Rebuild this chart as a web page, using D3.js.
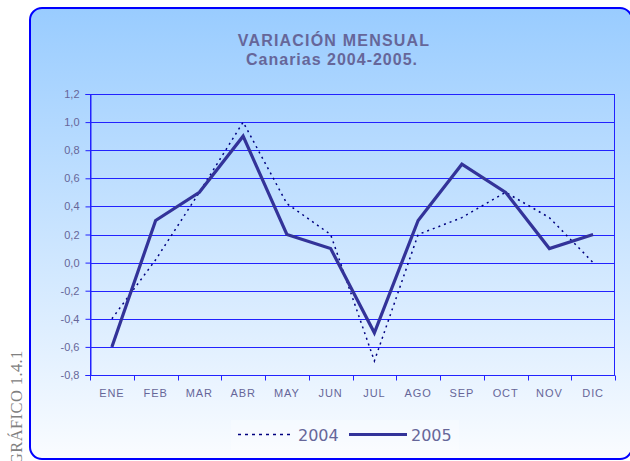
<!DOCTYPE html>
<html>
<head>
<meta charset="utf-8">
<script src="https://cdn.jsdelivr.net/npm/d3@7/dist/d3.min.js"></script>
<style>
html,body{margin:0;padding:0;background:#fff;}
svg{display:block;}
</style>
</head>
<body>
<svg id="chart" width="630" height="461"></svg>
<script>
const months = ["ENE","FEB","MAR","ABR","MAY","JUN","JUL","AGO","SEP","OCT","NOV","DIC"];
const serie2004 = [-0.4, 0.02, 0.5, 1.0, 0.42, 0.2, -0.7, 0.2, 0.32, 0.5, 0.32, 0.0];
const serie2005 = [-0.6, 0.3, 0.5, 0.9, 0.2, 0.1, -0.5, 0.3, 0.7, 0.5, 0.1, 0.2];
const yTicks = [-0.8,-0.6,-0.4,-0.2,0.0,0.2,0.4,0.6,0.8,1.0,1.2];
const seriesNames = ["2004","2005"];
const titleLines = ["VARIACIÓN MENSUAL","Canarias 2004-2005."];
const sideLabel = "GRÁFICO 1.4.1";

const svg = d3.select("#chart");
const defs = svg.append("defs");
const grad = defs.append("linearGradient").attr("id","bg").attr("x1",0).attr("y1",0).attr("x2",0).attr("y2",1);
grad.append("stop").attr("offset","0%").attr("stop-color","#99ccff");
grad.append("stop").attr("offset","100%").attr("stop-color","#fafcff");

// outer box
svg.append("rect").attr("x",30).attr("y",8).attr("width",602).attr("height",451)
  .attr("rx",12).attr("ry",12).attr("fill","url(#bg)").attr("stroke","#0000ff").attr("stroke-width",2);

// side label
svg.append("text").attr("transform","translate(22,465) rotate(-90)")
  .attr("font-family","Liberation Serif, serif").attr("font-size",16.5).attr("fill","#808080")
  .attr("letter-spacing",0.4).text(sideLabel);

// title
svg.append("text").attr("x",334).attr("y",46).attr("text-anchor","middle")
  .attr("font-family","Liberation Sans, Arial, sans-serif").attr("font-weight","bold").attr("fill","#666699")
  .attr("font-size",16).attr("letter-spacing",1.2).text(titleLines[0]);
svg.append("text").attr("x",332).attr("y",65).attr("text-anchor","middle")
  .attr("font-family","Liberation Sans, Arial, sans-serif").attr("font-weight","bold").attr("fill","#666699")
  .attr("font-size",16).attr("letter-spacing",1.0).text(titleLines[1]);

const m = {left:90, right:615, top:94, bottom:375};
const x = d3.scaleBand().domain(months).range([m.left,m.right]);
const y = d3.scaleLinear().domain([-0.8,1.2]).range([m.bottom,m.top]);
const fmt = v => d3.format(".1f")(v).replace(".",",").replace("−","-");

// gridlines
svg.append("g").selectAll("line").data(yTicks).join("line")
  .attr("x1",m.left).attr("x2",m.right).attr("y1",d=>Math.round(y(d))+0.5).attr("y2",d=>Math.round(y(d))+0.5)
  .attr("stroke","#2222ff").attr("stroke-width",1);
// plot border
svg.append("rect").attr("x",m.left+0.5).attr("y",m.top+0.5).attr("width",m.right-m.left-1).attr("height",m.bottom-m.top)
  .attr("fill","none").attr("stroke","#2222ff").attr("stroke-width",1);

// y axis
const yAxis = d3.axisLeft(y).tickValues(yTicks).tickFormat(fmt).tickSize(5).tickPadding(6);
const gy = svg.append("g").attr("transform",`translate(${m.left+0.5},0)`).call(yAxis);
gy.select(".domain").attr("stroke","#2222ff");
gy.selectAll(".tick line").attr("stroke","#2222ff");
gy.selectAll("text").attr("font-family","Liberation Sans, Arial, sans-serif").attr("font-size",11).attr("fill","#666699");

// x axis
const xb = d3.scaleLinear().domain([0,12]).range([m.left,m.right]);
const gx = svg.append("g").attr("transform",`translate(0,${Math.round(m.bottom)+0.5})`);
gx.append("line").attr("x1",m.left).attr("x2",m.right).attr("stroke","#2222ff");
gx.selectAll("line.t").data(d3.range(13)).join("line").attr("class","t")
  .attr("x1",d=>Math.round(xb(d))+0.5).attr("x2",d=>Math.round(xb(d))+0.5).attr("y1",0).attr("y2",5).attr("stroke","#2222ff");
gx.selectAll("text").data(months).join("text")
  .attr("x",d=>x(d)+x.bandwidth()/2).attr("y",21).attr("text-anchor","middle")
  .attr("font-family","Liberation Sans, Arial, sans-serif").attr("font-size",11).attr("fill","#666699")
  .attr("letter-spacing",0.9).text(d=>d);

const line = d3.line().x((d,i)=>x(months[i])+x.bandwidth()/2).y(d=>y(d));
svg.append("path").datum(serie2004).attr("d",line).attr("fill","none")
  .attr("stroke","#000080").attr("stroke-width",1.5).attr("stroke-dasharray","2,4");
svg.append("path").datum(serie2005).attr("d",line).attr("fill","none")
  .attr("stroke","#333399").attr("stroke-width",3.2).attr("stroke-linejoin","miter");

// legend
const lg = svg.append("g");
lg.append("rect").attr("x",231).attr("y",420).attr("width",228).attr("height",30).attr("fill","#ffffff").attr("opacity",0.25);
lg.append("line").attr("x1",238).attr("x2",293).attr("y1",434.5).attr("y2",434.5)
  .attr("stroke","#000080").attr("stroke-width",1.5).attr("stroke-dasharray","3,4");
lg.append("text").attr("x",298).attr("y",440.5).text(seriesNames[0]);
lg.append("line").attr("x1",349).attr("x2",407).attr("y1",434.5).attr("y2",434.5)
  .attr("stroke","#333399").attr("stroke-width",3);
lg.append("text").attr("x",411).attr("y",440.5).text(seriesNames[1]);
lg.selectAll("text").attr("font-family","DejaVu Sans, sans-serif").attr("font-size",16).attr("fill","#666699");
</script>
</body>
</html>
